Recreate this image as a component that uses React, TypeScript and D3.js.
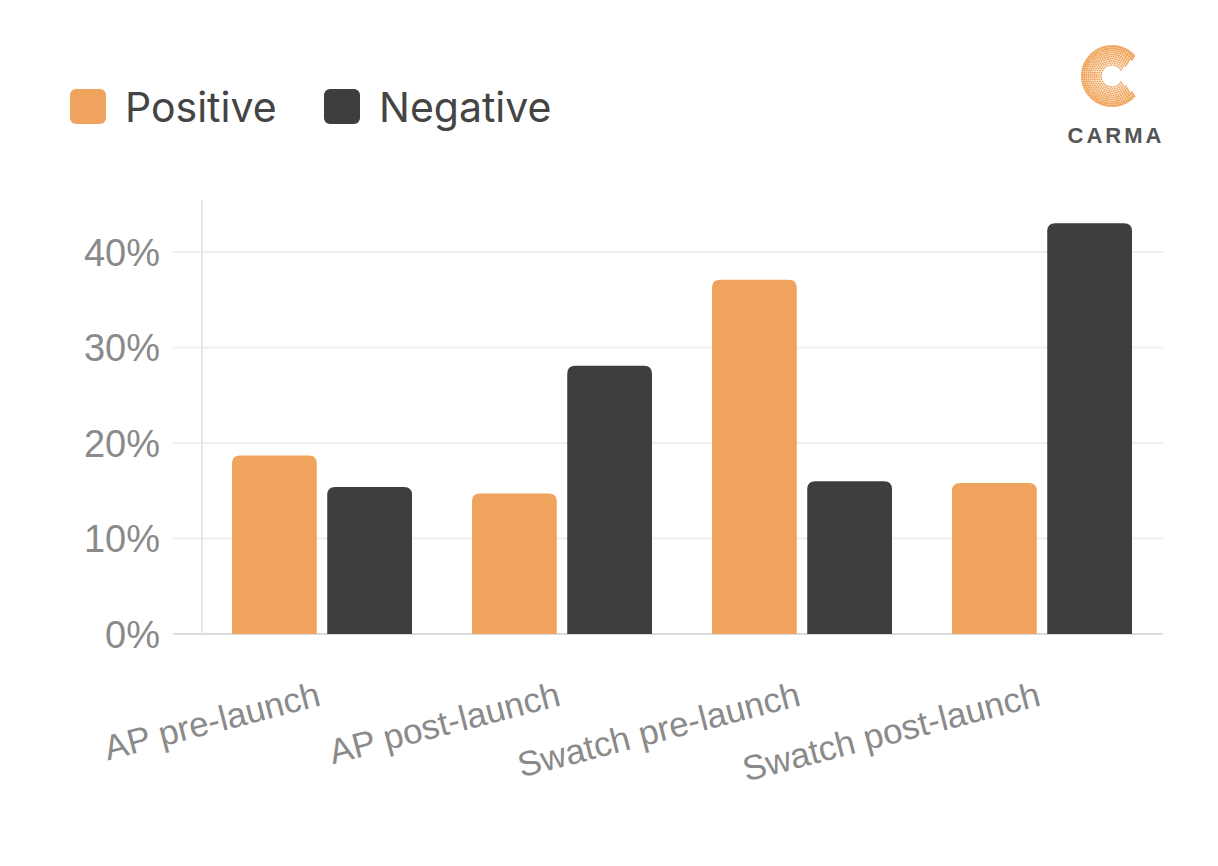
import React from "react";
import * as d3 from "d3";

const categories = ["AP pre-launch", "AP post-launch", "Swatch pre-launch", "Swatch post-launch"];
const seriesNames = ["Positive", "Negative"];
const positive = [18.7, 14.7, 37.1, 15.8];
const negative = [15.4, 28.1, 16.0, 43.0];
const yTicks = [0, 10, 20, 30, 40];
const seriesColors = ["#F0A35C", "#3E3E3E"];

const W = 1218;
const H = 866;

function topRounded(x: number, y: number, w: number, h: number, r: number) {
  const rr = Math.min(r, w / 2, h);
  return `M${x},${y + h}V${y + rr}Q${x},${y} ${x + rr},${y}H${x + w - rr}Q${x + w},${y} ${x + w},${y + rr}V${y + h}Z`;
}

function Logo() {
  const cx = 1112;
  const cy = 76;
  const dots: { x: number; y: number; r: number }[] = [];
  for (let rad = 11; rad <= 32; rad += 2.1) {
    const n = Math.round((2 * Math.PI * rad) / 2.2);
    for (let i = 0; i < n; i++) {
      const a = (i / n) * 2 * Math.PI;
      const deg = (a * 180) / Math.PI;
      const limit = 34 + (rad - 11) * 0.3;
      if (deg < limit || deg > 360 - limit) continue;
      dots.push({ x: cx + rad * Math.cos(a), y: cy + rad * Math.sin(a), r: 0.75 + (rad / 32) * 0.5 });
    }
  }
  return (
    <g>
      {dots.map((d, i) => (
        <circle key={i} cx={d.x} cy={d.y} r={d.r} fill="#F0A35C" />
      ))}
      <text
        x={1116}
        y={143}
        textAnchor="middle"
        fontFamily="Liberation Sans, Arial, sans-serif"
        fontWeight={700}
        fontSize={22}
        letterSpacing={3}
        fill="#555"
      >
        CARMA
      </text>
    </g>
  );
}

export default function App() {
  const x0 = d3.scaleBand<string>().domain(categories).range([202, 1162]).paddingInner(0.25).paddingOuter(0.125);
  const x1 = d3.scaleBand<string>().domain(seriesNames).range([0, x0.bandwidth()]).paddingInner(0.11);
  const y = d3.scaleLinear().domain([0, 40]).range([634, 252]);
  const values = [positive, negative];

  const legendItems = [
    { name: seriesNames[0], color: seriesColors[0], x: 70 },
    { name: seriesNames[1], color: seriesColors[1], x: 324 },
  ];

  return (
    <svg width={W} height={H} style={{ position: "absolute", left: 0, top: 0, background: "#fff" }}>
      <rect x={0} y={0} width={W} height={H} fill="#fff" />
      {/* legend */}
      {legendItems.map((l) => (
        <g key={l.name}>
          <rect x={l.x} y={89} width={36} height={35} rx={6} fill={l.color} />
          <text x={l.x + 55} y={122} fontFamily="Inter, Liberation Sans, sans-serif" fontSize={41} fill="#444">
            {l.name}
          </text>
        </g>
      ))}
      <Logo />
      {/* grid */}
      {yTicks.map((t) => (
        <g key={t}>
          <line x1={173} x2={1163} y1={y(t)} y2={y(t)} stroke={t === 0 ? "#dcdcdc" : "#efefef"} strokeWidth={2} />
          <text
            x={160}
            y={y(t)}
            dy="0.36em"
            textAnchor="end"
            fontFamily="Liberation Sans, Arial, sans-serif"
            fontSize={38}
            fill="#8a8a8a"
          >
            {`${t}%`}
          </text>
        </g>
      ))}
      <line x1={202} x2={202} y1={200} y2={634} stroke="#e6e6e6" strokeWidth={2} />
      {/* bars */}
      {categories.map((c, ci) => (
        <g key={c} transform={`translate(${x0(c)},0)`}>
          {seriesNames.map((s, si) => {
            const v = values[si][ci];
            const bx = x1(s)!;
            const by = y(v);
            return (
              <path key={s} d={topRounded(bx, by, x1.bandwidth(), y(0) - by, 8)} fill={seriesColors[si]} />
            );
          })}
        </g>
      ))}
      {/* x labels */}
      {categories.map((c) => {
        const cx = x0(c)! + x0.bandwidth() / 2;
        return (
          <text
            key={c}
            transform={`translate(${cx},705) rotate(-14.5)`}
            textAnchor="end"
            fontFamily="Liberation Sans, Arial, sans-serif"
            fontSize={35}
            fill="#8a8a8a"
          >
            {c}
          </text>
        );
      })}
    </svg>
  );
}
